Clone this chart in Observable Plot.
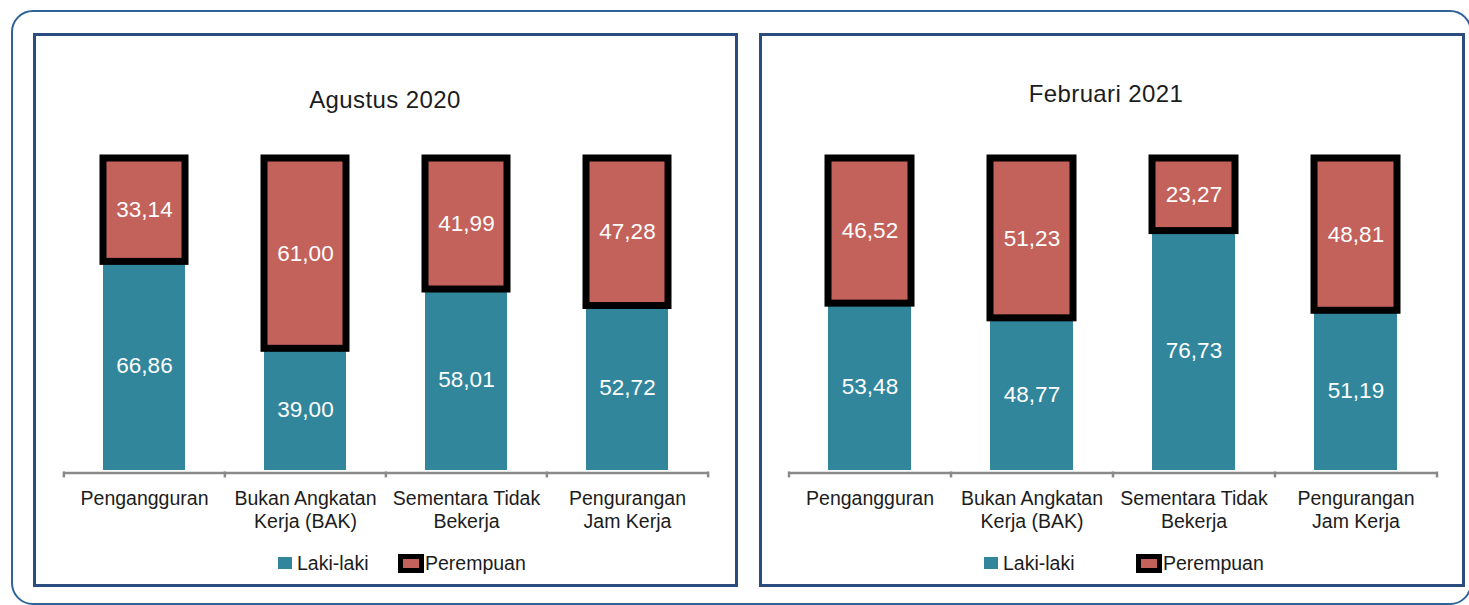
<!DOCTYPE html>
<html>
<head>
<meta charset="utf-8">
<script src="https://cdn.jsdelivr.net/npm/d3@7"></script>
<script src="https://cdn.jsdelivr.net/npm/@observablehq/plot@0.6"></script>
<style>
  html, body { margin: 0; padding: 0; background: #ffffff; }
  body { width: 1469px; height: 605px; position: relative; overflow: hidden; font-family: "Liberation Sans", Arial, sans-serif; color: #1c1c1c; }
  .outer { position: absolute; left: 11px; top: 10px; width: 1461px; height: 595px; border: 2.5px solid #2f6498; border-radius: 22px; box-sizing: border-box; }
  .panel { position: absolute; top: 33px; height: 554px; border: 3px solid #2b4c7e; box-sizing: border-box; }
  .title { position: absolute; font-size: 24px; letter-spacing: 0.4px; transform: translateX(-50%); white-space: nowrap; line-height: 1; }
  .chart { position: absolute; top: 140px; }
  .leg { position: absolute; font-size: 19.5px; line-height: 1; white-space: nowrap; }
  .sw { position: absolute; }
</style>
</head>
<body>
<div class="outer"></div>
<div class="panel" style="left:33px; width:705px;"></div>
<div class="panel" style="left:759px; width:706px;"></div>

<div class="title" id="t0" style="left:385px; top:88px;"></div>
<div class="title" id="t1" style="left:1106px; top:82px;"></div>

<div class="chart" id="c0" style="left:36px;"></div>
<div class="chart" id="c1" style="left:762px;"></div>

<div id="legend"></div>

<script>
// ---- data ----
const categories = ["Pengangguran", "Bukan Angkatan Kerja (BAK)", "Sementara Tidak Bekerja", "Pengurangan Jam Kerja"];
const tickLabels = ["Pengangguran", "Bukan Angkatan\nKerja (BAK)", "Sementara Tidak\nBekerja", "Pengurangan\nJam Kerja"];
const sexes = ["Laki-laki", "Perempuan"];
const panelTitles = ["Agustus 2020", "Februari 2021"];
const aug2020Laki = [66.86, 39.00, 58.01, 52.72];
const aug2020Perempuan = [33.14, 61.00, 41.99, 47.28];
const feb2021Laki = [53.48, 48.77, 76.73, 51.19];
const feb2021Perempuan = [46.52, 51.23, 23.27, 48.81];

const teal = "#31869C";
const red = "#C3625B";
const fmt = v => v.toFixed(2).replace(".", ",");

function rowsOf(laki, perempuan) {
  const rows = [];
  categories.forEach((c, i) => rows.push({cat: c, sex: sexes[0], value: laki[i]}));
  categories.forEach((c, i) => rows.push({cat: c, sex: sexes[1], value: perempuan[i]}));
  return rows;
}

function chart(rows, ml, mr) {
  const width = 700, height = 400, mt = 18, mb = 70;
  const step = (width - ml - mr) / categories.length;
  return Plot.plot({
    width, height,
    marginTop: mt, marginBottom: mb, marginLeft: ml, marginRight: mr,
    style: {background: "transparent", overflow: "visible", fontFamily: "Liberation Sans, Arial, sans-serif"},
    x: {domain: categories, paddingInner: 0.49, paddingOuter: 0.245, axis: null},
    y: {domain: [0, 100], axis: null},
    color: {domain: sexes, range: [teal, red]},
    opacity: {type: "identity"},
    marks: [
      Plot.barY(rows, Plot.stackY({x: "cat", y: "value", fill: "sex"})),
      Plot.barY(rows, Plot.stackY({x: "cat", y: "value", z: "sex", fill: "none", stroke: "black", strokeWidth: 7,
        strokeOpacity: d => d.sex === sexes[1] ? 1 : 0})),
      Plot.text(rows, Plot.stackY({x: "cat", y: "value", z: "sex", text: d => fmt(d.value), fill: "white", fontSize: 22.5})),
      Plot.ruleY([0], {stroke: "#8a8a8a", strokeWidth: 2.5, dy: 2.5}),
      Plot.ruleX(categories, {x: d => d, y1: () => 0, y2: () => -1.9, dx: -step / 2, dy: 1.5, stroke: "#8a8a8a", strokeWidth: 2.5}),
      Plot.ruleX(categories.slice(-1), {x: d => d, y1: () => 0, y2: () => -1.9, dx: step / 2, dy: 1.5, stroke: "#8a8a8a", strokeWidth: 2.5}),
      Plot.text(categories, {x: d => d, frameAnchor: "bottom", dy: 18, lineAnchor: "top", lineHeight: 1.18,
        text: (d, i) => tickLabels[i], fill: "#1c1c1c", fontSize: 19.5})
    ]
  });
}

document.getElementById("t0").textContent = panelTitles[0];
document.getElementById("t1").textContent = panelTitles[1];
document.getElementById("c0").append(chart(rowsOf(aug2020Laki, aug2020Perempuan), 27, 28));
document.getElementById("c1").append(chart(rowsOf(feb2021Laki, feb2021Perempuan), 26, 26));

// legends
const legend = document.getElementById("legend");
function addLegend(xTeal, xRedBox) {
  const s1 = document.createElement("div");
  s1.className = "sw";
  Object.assign(s1.style, {left: xTeal + "px", top: "557px", width: "14px", height: "12px", background: teal});
  const l1 = document.createElement("div");
  l1.className = "leg";
  Object.assign(l1.style, {left: (xTeal + 19) + "px", top: "554px"});
  l1.textContent = sexes[0];
  const s2 = document.createElement("div");
  s2.className = "sw";
  Object.assign(s2.style, {left: xRedBox + "px", top: "554px", width: "16px", height: "9px", background: red, border: "5px solid black"});
  const l2 = document.createElement("div");
  l2.className = "leg";
  Object.assign(l2.style, {left: (xRedBox + 27) + "px", top: "554px"});
  l2.textContent = sexes[1];
  legend.append(s1, l1, s2, l2);
}
addLegend(278, 398);
addLegend(984, 1136);
</script>
</body>
</html>
